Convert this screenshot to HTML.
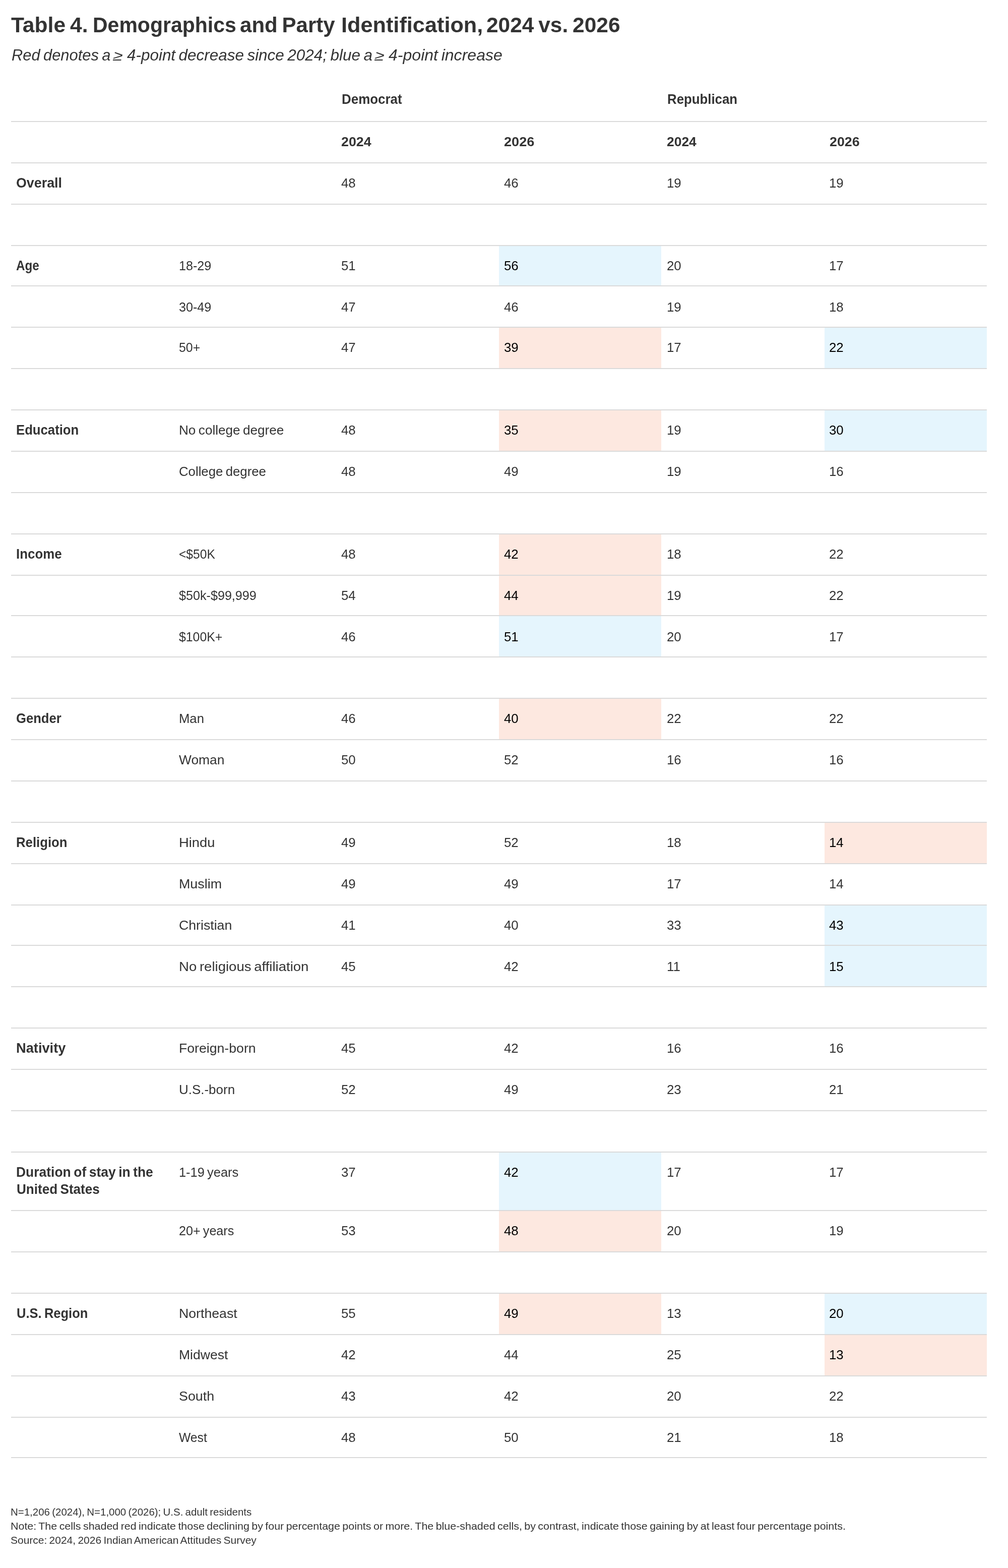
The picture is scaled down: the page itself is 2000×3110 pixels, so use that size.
<!DOCTYPE html>
<html lang="en"><head><meta charset="utf-8"><title>Table 4. Demographics and Party Identification, 2024 vs. 2026</title>
<style>
html,body{margin:0;padding:0;background:#fff;}
body{position:relative;width:2000px;height:3110px;overflow:hidden;font-family:"Liberation Sans",sans-serif;color:#333333;}
.t{position:absolute;white-space:nowrap;line-height:1;transform-origin:0 50%;word-spacing:-0.07em;}
.l{position:absolute;left:22px;width:1936px;height:2px;background:#dadada;}
.c{position:absolute;}
.title{font-size:42.2px;font-weight:700;}
.sub{font-size:31.5px;font-style:italic;}
.bold{font-size:26.9px;font-weight:700;}
.bnum{font-size:25.4px;font-weight:700;}
.reg{font-size:26.5px;}
.num{font-size:25.4px;}
.foot{font-size:21.1px;}
</style></head><body>
<div class="c" style="left:990px;top:488px;width:322px;height:78px;background:#e5f5fd"></div>
<div class="c" style="left:990px;top:650px;width:322px;height:80px;background:#fde8e0"></div>
<div class="c" style="left:1636px;top:650px;width:322px;height:80px;background:#e5f5fd"></div>
<div class="c" style="left:990px;top:814px;width:322px;height:80px;background:#fde8e0"></div>
<div class="c" style="left:1636px;top:814px;width:322px;height:80px;background:#e5f5fd"></div>
<div class="c" style="left:990px;top:1060px;width:322px;height:80px;background:#fde8e0"></div>
<div class="c" style="left:990px;top:1142px;width:322px;height:78px;background:#fde8e0"></div>
<div class="c" style="left:990px;top:1222px;width:322px;height:80px;background:#e5f5fd"></div>
<div class="c" style="left:990px;top:1386px;width:322px;height:80px;background:#fde8e0"></div>
<div class="c" style="left:1636px;top:1632px;width:322px;height:80px;background:#fde8e0"></div>
<div class="c" style="left:1636px;top:1796px;width:322px;height:78px;background:#e5f5fd"></div>
<div class="c" style="left:1636px;top:1876px;width:322px;height:80px;background:#e5f5fd"></div>
<div class="c" style="left:990px;top:2286px;width:322px;height:114px;background:#e5f5fd"></div>
<div class="c" style="left:990px;top:2402px;width:322px;height:80px;background:#fde8e0"></div>
<div class="c" style="left:990px;top:2566px;width:322px;height:80px;background:#fde8e0"></div>
<div class="c" style="left:1636px;top:2566px;width:322px;height:80px;background:#e5f5fd"></div>
<div class="c" style="left:1636px;top:2648px;width:322px;height:80px;background:#fde8e0"></div>
<div class="t title" style="left:21.96px;top:29px;transform:scaleX(1.0097);">Table 4.</div>
<div class="t title" style="left:184.41px;top:29px;transform:scaleX(0.9717);">Demographics</div>
<div class="t title" style="left:475.57px;top:29px;transform:scaleX(0.9964);">and Party</div>
<div class="t title" style="left:676.76px;top:29px;transform:scaleX(1.0258);">Identification,</div>
<div class="t title" style="left:965.46px;top:29px;transform:scaleX(1.0061);">2024 vs. 2026</div>
<div class="t sub" style="left:23.22px;top:94px;transform:scaleX(0.9797);">Red denotes a</div>
<div class="t sub" style="left:225.10px;top:97px;transform:scaleX(1.2000) skewX(-12deg);font-size:28px;">≥</div>
<div class="t sub" style="left:251.97px;top:94px;transform:scaleX(0.9976);">4-point decrease since 2024; blue a</div>
<div class="t sub" style="left:744.20px;top:97px;transform:scaleX(1.2000) skewX(-12deg);font-size:28px;">≥</div>
<div class="t sub" style="left:771.36px;top:94px;transform:scaleX(1.0175);">4-point increase</div>
<div class="t bold" style="left:677.83px;top:184px;transform:scaleX(0.9648);">Democrat</div>
<div class="t bold" style="left:1323.64px;top:184px;transform:scaleX(0.9594);">Republican</div>
<div class="t bnum" style="left:677.12px;top:269px;transform:scaleX(1.0554);">2024</div>
<div class="t bnum" style="left:999.81px;top:269px;transform:scaleX(1.0683);">2026</div>
<div class="t bnum" style="left:1323.34px;top:269px;transform:scaleX(1.0410);">2024</div>
<div class="t bnum" style="left:1645.92px;top:269px;transform:scaleX(1.0537);">2026</div>
<div class="t bold" style="left:32.04px;top:350px;transform:scaleX(0.9977);">Overall</div>
<div class="t num" style="left:677.29px;top:351px;transform:scaleX(1.0163);">48</div>
<div class="t num" style="left:999.96px;top:351px;transform:scaleX(1.0163);">46</div>
<div class="t num" style="left:1322.63px;top:351px;transform:scaleX(1.0163);">19</div>
<div class="t num" style="left:1645.29px;top:351px;transform:scaleX(1.0163);">19</div>
<div class="t bold" style="left:31.55px;top:514px;transform:scaleX(0.9000);">Age</div>
<div class="t num" style="left:355.17px;top:515px;transform:scaleX(0.9906);">18-29</div>
<div class="t num" style="left:677.29px;top:515px;transform:scaleX(1.0163);">51</div>
<div class="t num" style="left:999.96px;top:515px;transform:scaleX(1.0163);color:#000000;">56</div>
<div class="t num" style="left:1322.63px;top:515px;transform:scaleX(1.0163);">20</div>
<div class="t num" style="left:1645.29px;top:515px;transform:scaleX(1.0163);">17</div>
<div class="t num" style="left:355.17px;top:597px;transform:scaleX(0.9906);">30-49</div>
<div class="t num" style="left:677.29px;top:597px;transform:scaleX(1.0163);">47</div>
<div class="t num" style="left:999.96px;top:597px;transform:scaleX(1.0163);">46</div>
<div class="t num" style="left:1322.63px;top:597px;transform:scaleX(1.0163);">19</div>
<div class="t num" style="left:1645.29px;top:597px;transform:scaleX(1.0163);">18</div>
<div class="t num" style="left:355.17px;top:677px;transform:scaleX(0.9785);">50+</div>
<div class="t num" style="left:677.29px;top:677px;transform:scaleX(1.0163);">47</div>
<div class="t num" style="left:999.96px;top:677px;transform:scaleX(1.0163);color:#000000;">39</div>
<div class="t num" style="left:1322.63px;top:677px;transform:scaleX(1.0163);">17</div>
<div class="t num" style="left:1645.29px;top:677px;transform:scaleX(1.0163);color:#000000;">22</div>
<div class="t bold" style="left:32.45px;top:840px;transform:scaleX(0.9561);">Education</div>
<div class="t reg" style="left:355.17px;top:840px;transform:scaleX(0.9856);">No college degree</div>
<div class="t num" style="left:677.29px;top:841px;transform:scaleX(1.0163);">48</div>
<div class="t num" style="left:999.96px;top:841px;transform:scaleX(1.0163);color:#000000;">35</div>
<div class="t num" style="left:1322.63px;top:841px;transform:scaleX(1.0163);">19</div>
<div class="t num" style="left:1645.29px;top:841px;transform:scaleX(1.0163);color:#000000;">30</div>
<div class="t reg" style="left:355.17px;top:922px;transform:scaleX(0.9717);">College degree</div>
<div class="t num" style="left:677.29px;top:923px;transform:scaleX(1.0163);">48</div>
<div class="t num" style="left:999.96px;top:923px;transform:scaleX(1.0163);">49</div>
<div class="t num" style="left:1322.63px;top:923px;transform:scaleX(1.0163);">19</div>
<div class="t num" style="left:1645.29px;top:923px;transform:scaleX(1.0163);">16</div>
<div class="t bold" style="left:32.44px;top:1086px;transform:scaleX(0.9624);">Income</div>
<div class="t reg" style="left:355.17px;top:1086px;transform:scaleX(0.9284);">&lt;$50K</div>
<div class="t num" style="left:677.29px;top:1087px;transform:scaleX(1.0163);">48</div>
<div class="t num" style="left:999.96px;top:1087px;transform:scaleX(1.0163);color:#000000;">42</div>
<div class="t num" style="left:1322.63px;top:1087px;transform:scaleX(1.0163);">18</div>
<div class="t num" style="left:1645.29px;top:1087px;transform:scaleX(1.0163);">22</div>
<div class="t reg" style="left:355.17px;top:1168px;transform:scaleX(0.9490);">$50k-$99,999</div>
<div class="t num" style="left:677.29px;top:1169px;transform:scaleX(1.0163);">54</div>
<div class="t num" style="left:999.96px;top:1169px;transform:scaleX(1.0163);color:#000000;">44</div>
<div class="t num" style="left:1322.63px;top:1169px;transform:scaleX(1.0163);">19</div>
<div class="t num" style="left:1645.29px;top:1169px;transform:scaleX(1.0163);">22</div>
<div class="t reg" style="left:355.17px;top:1250px;transform:scaleX(0.9372);">$100K+</div>
<div class="t num" style="left:677.29px;top:1251px;transform:scaleX(1.0163);">46</div>
<div class="t num" style="left:999.96px;top:1251px;transform:scaleX(1.0163);color:#000000;">51</div>
<div class="t num" style="left:1322.63px;top:1251px;transform:scaleX(1.0163);">20</div>
<div class="t num" style="left:1645.29px;top:1251px;transform:scaleX(1.0163);">17</div>
<div class="t bold" style="left:32.19px;top:1412px;transform:scaleX(0.9529);">Gender</div>
<div class="t reg" style="left:355.17px;top:1412px;transform:scaleX(0.9679);">Man</div>
<div class="t num" style="left:677.29px;top:1413px;transform:scaleX(1.0163);">46</div>
<div class="t num" style="left:999.96px;top:1413px;transform:scaleX(1.0163);color:#000000;">40</div>
<div class="t num" style="left:1322.63px;top:1413px;transform:scaleX(1.0163);">22</div>
<div class="t num" style="left:1645.29px;top:1413px;transform:scaleX(1.0163);">22</div>
<div class="t reg" style="left:355.17px;top:1494px;transform:scaleX(0.9951);">Woman</div>
<div class="t num" style="left:677.29px;top:1495px;transform:scaleX(1.0163);">50</div>
<div class="t num" style="left:999.96px;top:1495px;transform:scaleX(1.0163);">52</div>
<div class="t num" style="left:1322.63px;top:1495px;transform:scaleX(1.0163);">16</div>
<div class="t num" style="left:1645.29px;top:1495px;transform:scaleX(1.0163);">16</div>
<div class="t bold" style="left:32.44px;top:1658px;transform:scaleX(0.9575);">Religion</div>
<div class="t reg" style="left:355.17px;top:1658px;transform:scaleX(1.0301);">Hindu</div>
<div class="t num" style="left:677.29px;top:1659px;transform:scaleX(1.0163);">49</div>
<div class="t num" style="left:999.96px;top:1659px;transform:scaleX(1.0163);">52</div>
<div class="t num" style="left:1322.63px;top:1659px;transform:scaleX(1.0163);">18</div>
<div class="t num" style="left:1645.29px;top:1659px;transform:scaleX(1.0163);color:#000000;">14</div>
<div class="t reg" style="left:355.17px;top:1740px;transform:scaleX(1.0130);">Muslim</div>
<div class="t num" style="left:677.29px;top:1741px;transform:scaleX(1.0163);">49</div>
<div class="t num" style="left:999.96px;top:1741px;transform:scaleX(1.0163);">49</div>
<div class="t num" style="left:1322.63px;top:1741px;transform:scaleX(1.0163);">17</div>
<div class="t num" style="left:1645.29px;top:1741px;transform:scaleX(1.0163);">14</div>
<div class="t reg" style="left:355.17px;top:1822px;transform:scaleX(1.0068);">Christian</div>
<div class="t num" style="left:677.29px;top:1823px;transform:scaleX(1.0163);">41</div>
<div class="t num" style="left:999.96px;top:1823px;transform:scaleX(1.0163);">40</div>
<div class="t num" style="left:1322.63px;top:1823px;transform:scaleX(1.0163);">33</div>
<div class="t num" style="left:1645.29px;top:1823px;transform:scaleX(1.0163);color:#000000;">43</div>
<div class="t reg" style="left:355.17px;top:1904px;transform:scaleX(1.0391);">No religious affiliation</div>
<div class="t num" style="left:677.29px;top:1905px;transform:scaleX(1.0163);">45</div>
<div class="t num" style="left:999.96px;top:1905px;transform:scaleX(1.0163);">42</div>
<div class="t num" style="left:1322.63px;top:1905px;transform:scaleX(1.0163);">11</div>
<div class="t num" style="left:1645.29px;top:1905px;transform:scaleX(1.0163);color:#000000;">15</div>
<div class="t bold" style="left:32.34px;top:2066px;transform:scaleX(1.0126);">Nativity</div>
<div class="t reg" style="left:355.17px;top:2066px;transform:scaleX(1.0058);">Foreign-born</div>
<div class="t num" style="left:677.29px;top:2067px;transform:scaleX(1.0163);">45</div>
<div class="t num" style="left:999.96px;top:2067px;transform:scaleX(1.0163);">42</div>
<div class="t num" style="left:1322.63px;top:2067px;transform:scaleX(1.0163);">16</div>
<div class="t num" style="left:1645.29px;top:2067px;transform:scaleX(1.0163);">16</div>
<div class="t reg" style="left:355.17px;top:2148px;transform:scaleX(0.9794);">U.S.-born</div>
<div class="t num" style="left:677.29px;top:2149px;transform:scaleX(1.0163);">52</div>
<div class="t num" style="left:999.96px;top:2149px;transform:scaleX(1.0163);">49</div>
<div class="t num" style="left:1322.63px;top:2149px;transform:scaleX(1.0163);">23</div>
<div class="t num" style="left:1645.29px;top:2149px;transform:scaleX(1.0163);">21</div>
<div class="t bold" style="left:32.40px;top:2312px;transform:scaleX(0.9837);">Duration of stay in the</div>
<div class="t bold" style="left:32.75px;top:2346px;transform:scaleX(0.9693);">United States</div>
<div class="t reg" style="left:355.17px;top:2312px;transform:scaleX(0.9578);">1-19 years</div>
<div class="t num" style="left:677.29px;top:2313px;transform:scaleX(1.0163);">37</div>
<div class="t num" style="left:999.96px;top:2313px;transform:scaleX(1.0163);color:#000000;">42</div>
<div class="t num" style="left:1322.63px;top:2313px;transform:scaleX(1.0163);">17</div>
<div class="t num" style="left:1645.29px;top:2313px;transform:scaleX(1.0163);">17</div>
<div class="t reg" style="left:355.17px;top:2428px;transform:scaleX(0.9480);">20+ years</div>
<div class="t num" style="left:677.29px;top:2429px;transform:scaleX(1.0163);">53</div>
<div class="t num" style="left:999.96px;top:2429px;transform:scaleX(1.0163);color:#000000;">48</div>
<div class="t num" style="left:1322.63px;top:2429px;transform:scaleX(1.0163);">20</div>
<div class="t num" style="left:1645.29px;top:2429px;transform:scaleX(1.0163);">19</div>
<div class="t bold" style="left:32.78px;top:2592px;transform:scaleX(0.9486);">U.S. Region</div>
<div class="t reg" style="left:355.17px;top:2592px;transform:scaleX(1.0064);">Northeast</div>
<div class="t num" style="left:677.29px;top:2593px;transform:scaleX(1.0163);">55</div>
<div class="t num" style="left:999.96px;top:2593px;transform:scaleX(1.0163);color:#000000;">49</div>
<div class="t num" style="left:1322.63px;top:2593px;transform:scaleX(1.0163);">13</div>
<div class="t num" style="left:1645.29px;top:2593px;transform:scaleX(1.0163);color:#000000;">20</div>
<div class="t reg" style="left:355.17px;top:2674px;transform:scaleX(1.0021);">Midwest</div>
<div class="t num" style="left:677.29px;top:2675px;transform:scaleX(1.0163);">42</div>
<div class="t num" style="left:999.96px;top:2675px;transform:scaleX(1.0163);">44</div>
<div class="t num" style="left:1322.63px;top:2675px;transform:scaleX(1.0163);">25</div>
<div class="t num" style="left:1645.29px;top:2675px;transform:scaleX(1.0163);color:#000000;">13</div>
<div class="t reg" style="left:355.17px;top:2756px;transform:scaleX(1.0138);">South</div>
<div class="t num" style="left:677.29px;top:2757px;transform:scaleX(1.0163);">43</div>
<div class="t num" style="left:999.96px;top:2757px;transform:scaleX(1.0163);">42</div>
<div class="t num" style="left:1322.63px;top:2757px;transform:scaleX(1.0163);">20</div>
<div class="t num" style="left:1645.29px;top:2757px;transform:scaleX(1.0163);">22</div>
<div class="t reg" style="left:355.17px;top:2838px;transform:scaleX(0.9316);">West</div>
<div class="t num" style="left:677.29px;top:2839px;transform:scaleX(1.0163);">48</div>
<div class="t num" style="left:999.96px;top:2839px;transform:scaleX(1.0163);">50</div>
<div class="t num" style="left:1322.63px;top:2839px;transform:scaleX(1.0163);">21</div>
<div class="t num" style="left:1645.29px;top:2839px;transform:scaleX(1.0163);">18</div>
<div class="t foot" style="left:20.78px;top:2988px;transform:scaleX(0.9701);">N=1,206 (2024), N=1,000 (2026); U.S. adult residents</div>
<div class="t foot" style="left:20.71px;top:3016px;transform:scaleX(1.0156);">Note: The cells shaded red indicate those declining by four percentage points or more. The blue-shaded cells, by contrast, indicate those gaining by at least four percentage points.</div>
<div class="t foot" style="left:21.41px;top:3044px;transform:scaleX(0.9941);">Source: 2024, 2026 Indian American Attitudes Survey</div>
<div class="l" style="top:240px"></div>
<div class="l" style="top:322px"></div>
<div class="l" style="top:404px"></div>
<div class="l" style="top:486px"></div>
<div class="l" style="top:566px"></div>
<div class="l" style="top:648px"></div>
<div class="l" style="top:730px"></div>
<div class="l" style="top:812px"></div>
<div class="l" style="top:894px"></div>
<div class="l" style="top:976px"></div>
<div class="l" style="top:1058px"></div>
<div class="l" style="top:1140px"></div>
<div class="l" style="top:1220px"></div>
<div class="l" style="top:1302px"></div>
<div class="l" style="top:1384px"></div>
<div class="l" style="top:1466px"></div>
<div class="l" style="top:1548px"></div>
<div class="l" style="top:1630px"></div>
<div class="l" style="top:1712px"></div>
<div class="l" style="top:1794px"></div>
<div class="l" style="top:1874px"></div>
<div class="l" style="top:1956px"></div>
<div class="l" style="top:2038px"></div>
<div class="l" style="top:2120px"></div>
<div class="l" style="top:2202px"></div>
<div class="l" style="top:2284px"></div>
<div class="l" style="top:2400px"></div>
<div class="l" style="top:2482px"></div>
<div class="l" style="top:2564px"></div>
<div class="l" style="top:2646px"></div>
<div class="l" style="top:2728px"></div>
<div class="l" style="top:2810px"></div>
<div class="l" style="top:2890px"></div>
</body></html>
